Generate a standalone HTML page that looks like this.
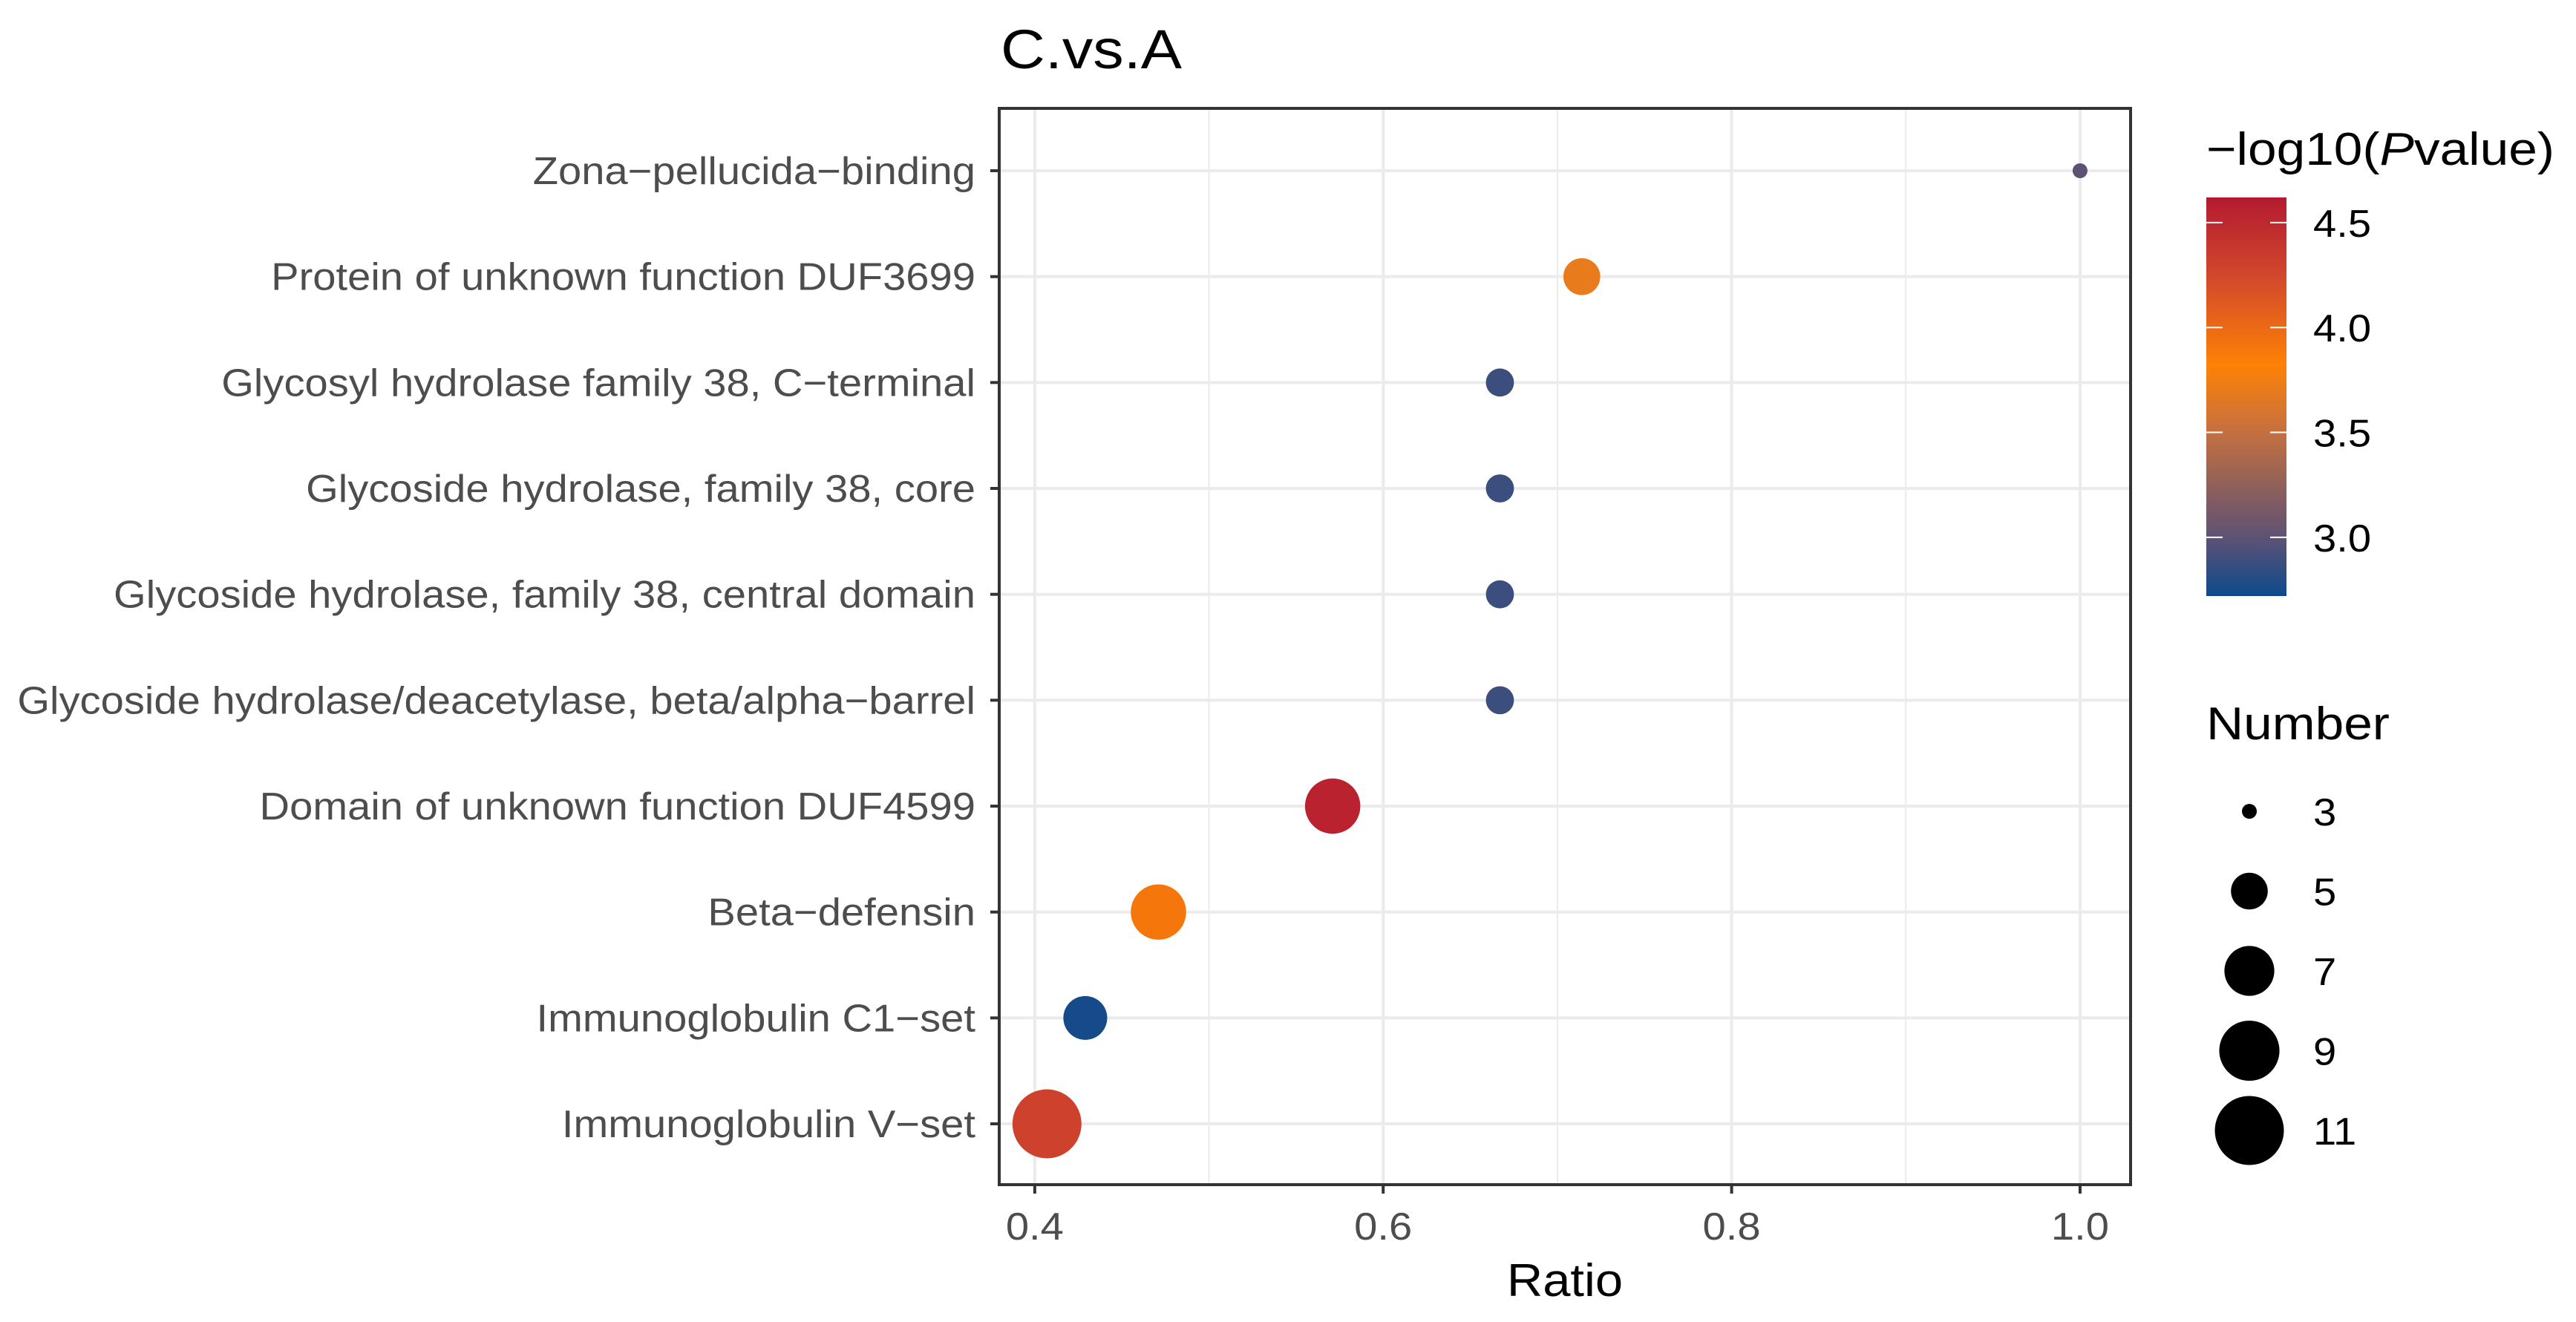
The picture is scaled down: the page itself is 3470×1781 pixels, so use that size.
<!DOCTYPE html>
<html><head><meta charset="utf-8"><style>html,body{margin:0;padding:0;background:#fff}svg{display:block;font-family:"Liberation Sans",sans-serif}</style></head>
<body>
<svg id="chart" width="3470" height="1781" viewBox="0 0 3470 1781" xmlns="http://www.w3.org/2000/svg">
<defs><linearGradient id="cg" x1="0" y1="1" x2="0" y2="0">
<stop offset="0" stop-color="#0d4a8c"/><stop offset="0.15" stop-color="#5f5273"/><stop offset="0.42" stop-color="#c8713e"/><stop offset="0.58" stop-color="#fd8205"/><stop offset="0.8" stop-color="#d2482c"/><stop offset="1" stop-color="#b41a30"/></linearGradient></defs>
<text x="1348" y="92" font-size="74" fill="#000" transform="translate(1348,0) scale(1.12,1) translate(-1348,0)">C.vs.A</text>
<g id="plot"></g>
</svg>
<script>
const categories=["Zona\u2212pellucida\u2212binding","Protein of unknown function DUF3699","Glycosyl hydrolase family 38, C\u2212terminal","Glycoside hydrolase, family 38, core","Glycoside hydrolase, family 38, central domain","Glycoside hydrolase/deacetylase, beta/alpha\u2212barrel","Domain of unknown function DUF4599","Beta\u2212defensin","Immunoglobulin C1\u2212set","Immunoglobulin V\u2212set"];
const ratios=[1.0,0.714,0.667,0.667,0.667,0.667,0.571,0.471,0.429,0.407];
const counts=[3,5,4,4,4,4,8,8,6,11];
const pvals=[3.0,3.7,2.88,2.88,2.88,2.88,4.55,3.9,2.75,4.3];
const xTicks=[0.4,0.6,0.8,1.0];
const xMinor=[0.5,0.7,0.9];
const colorTicks=[3.0,3.5,4.0,4.5];
const sizeLegend=[3,5,7,9,11];

const NS="http://www.w3.org/2000/svg";
const g=document.getElementById('plot');
const L=1346,R=2870,T=146,B=1596;
const x=v=>L+(v-0.3796)/(1.029-0.3796)*(R-L);
const y=i=>230+i*142.67;
const dia=n=>Math.sqrt(400+(n-3)*1030);
const cTop=266,cBot=803,cMin=2.72,cMax=4.62;
const cy=v=>cBot-(v-cMin)/(cMax-cMin)*(cBot-cTop);
const stops=[[0,[13,74,140]],[0.15,[95,82,115]],[0.42,[200,113,62]],[0.58,[253,130,5]],[0.8,[210,72,44]],[1,[180,26,48]]];
function col(v){let t=(v-cMin)/(cMax-cMin);t=Math.max(0,Math.min(1,t));for(let k=1;k<stops.length;k++){if(t<=stops[k][0]){const a=stops[k-1],b=stops[k];const f=(t-a[0])/(b[0]-a[0]);return 'rgb('+a[1].map((c,j)=>Math.round(c+(b[1][j]-c)*f)).join(',')+')';}}return 'rgb(180,26,48)';}
function mk(tag,attrs,text){const e=document.createElementNS(NS,tag);for(const k in attrs)e.setAttribute(k,attrs[k]);if(text!==undefined)e.textContent=text;g.appendChild(e);return e;}
function sx(ax,f){return 'translate('+ax+',0) scale('+f+',1) translate('+(-ax)+',0)';}

let e;
e=mk('rect',{x:L,y:T,width:R-L,height:B-T,fill:'#fff'});


xMinor.forEach(v=>{e=mk('line',{x1:x(v),x2:x(v),y1:T,y2:B,stroke:'#ebebeb','stroke-width':2});

});
xTicks.forEach(v=>{e=mk('line',{x1:x(v),x2:x(v),y1:T,y2:B,stroke:'#ebebeb','stroke-width':4});

});
categories.forEach((c,i)=>{e=mk('line',{x1:L,x2:R,y1:y(i),y2:y(i),stroke:'#ebebeb','stroke-width':4});

});
categories.forEach((c,i)=>{
e=mk('circle',{cx:x(ratios[i]),cy:y(i),r:dia(counts[i])/2,fill:col(pvals[i])});


e=mk('line',{x1:L-12,x2:L,y1:y(i),y2:y(i),stroke:'#333','stroke-width':4});


e=mk('text',{x:L-32,y:y(i)+18,'text-anchor':'end','font-size':52,fill:'#4d4d4d',transform:sx(L-32,1.08)},c);


});
e=mk('rect',{x:L,y:T,width:R-L,height:B-T,fill:'none',stroke:'#333','stroke-width':4});


xTicks.forEach(v=>{
e=mk('line',{x1:x(v),x2:x(v),y1:B,y2:B+12,stroke:'#333','stroke-width':4});


e=mk('text',{x:x(v),y:1670,'text-anchor':'middle','font-size':52,fill:'#4d4d4d',transform:sx(x(v),1.08)},v.toFixed(1));


});
e=mk('text',{x:(L+R)/2,y:1746,'text-anchor':'middle','font-size':62,fill:'#000',transform:sx((L+R)/2,1.08)},'Ratio');



e=mk('text',{x:2972,y:222,'font-size':62,fill:'#000',transform:sx(2972,1.12)});
e.innerHTML='\u2212log10(<tspan font-style="italic">P</tspan>value)';


e=mk('rect',{x:2972,y:cTop,width:108,height:cBot-cTop,fill:'url(#cg)'});


colorTicks.forEach(v=>{
e=mk('line',{x1:2972,x2:2994,y1:cy(v),y2:cy(v),stroke:'#fff','stroke-width':2});


e=mk('line',{x1:3058,x2:3080,y1:cy(v),y2:cy(v),stroke:'#fff','stroke-width':2});


e=mk('text',{x:3116,y:cy(v)+19,'font-size':52,fill:'#000',transform:sx(3116,1.08)},v.toFixed(1));


});
e=mk('text',{x:2972,y:996,'font-size':62,fill:'#000',transform:sx(2972,1.12)},'Number');


sizeLegend.forEach((n,k)=>{
const yy=1093+k*107.5;
e=mk('circle',{cx:3030,cy:yy,r:dia(n)/2,fill:'#000'});


e=mk('text',{x:3116,y:yy+19,'font-size':52,fill:'#000',transform:sx(3116,1.08)},String(n));


});
</script>
</body></html>
